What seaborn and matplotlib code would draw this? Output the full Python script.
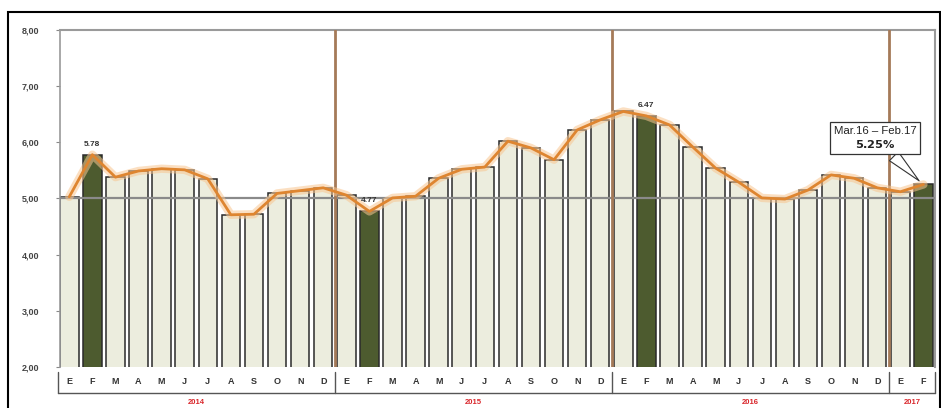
import numpy as np
import pandas as pd
import matplotlib
matplotlib.use("Agg")
import matplotlib.pyplot as plt
from matplotlib.patches import Rectangle
from matplotlib.lines import Line2D
import matplotlib.transforms as mtransforms
import seaborn as sns

# Monthly 12-month rate, Jan 2014 - Feb 2017
months = ["E", "F", "M", "A", "M", "J", "J", "A", "S", "O", "N", "D"]
years = ["2014", "2015", "2016", "2017"]
rate_2014 = [5.03, 5.78, 5.38, 5.49, 5.53, 5.51, 5.35, 4.71, 4.72, 5.09, 5.14, 5.19]
rate_2015 = [5.06, 4.77, 5.01, 5.04, 5.36, 5.52, 5.56, 6.02, 5.90, 5.69, 6.22, 6.40]
rate_2016 = [6.55, 6.47, 6.31, 5.92, 5.54, 5.29, 5.01, 4.99, 5.15, 5.42, 5.36, 5.19]
rate_2017 = [5.12, 5.25]
point_labels = {"2014-F": "5.78", "2015-F": "4.77", "2016-F": "6.47"}
callout_text = "Mar.16 \u2013 Feb.17"
callout_value = "5.25%"
yticks = [2, 3, 4, 5, 6, 7, 8]

series = [rate_2014, rate_2015, rate_2016, rate_2017]
rows = []
for yr, vals in zip(years, series):
    for i, v in enumerate(vals):
        rows.append({"period": f"{yr}-{i+1:02d}", "month": months[i], "year": yr,
                     "value": v, "kind": "feb" if months[i] == "F" else "other",
                     "key": f"{yr}-{months[i]}"})
df = pd.DataFrame(rows)
n = len(df)

sns.set_theme(style="white")
plt.rcParams["font.family"] = ["Liberation Sans", "DejaVu Sans"]

fig = plt.figure(figsize=(9.41, 4.08), dpi=100)
ax = fig.add_axes([0.0638, 0.1005, 0.9298, 0.826])

sns.barplot(data=df, x="period", y="value", hue="kind",
            palette={"feb": "#4F6228", "other": "#EEEFDC"},
            dodge=False, width=0.8, edgecolor="#2a2a2a", linewidth=1.1,
            legend=False, ax=ax, zorder=2)

# reference level and year separators
ax.axhline(5, color="#8a8a8a", lw=1.6, zorder=3)
pos = np.arange(n)
boundaries = [i - 0.5 for i in range(1, n) if df["year"].iloc[i] != df["year"].iloc[i - 1]]
for b in boundaries:
    ax.axvline(b, color="#A57A58", lw=2.0, zorder=3)

# rate line with soft glow
ax.plot(pos, df["value"], color="#F8C690", lw=6, alpha=0.55, zorder=4, solid_capstyle="round")
ax.plot(pos, df["value"], color="#DE8530", lw=2.0, zorder=5)

ax.set_ylim(2, 8)
ax.set_xlim(-0.4, n - 0.5)
ax.set_yticks(yticks)
ax.set_yticklabels([f"{t:.2f}".replace(".", ",") for t in yticks],
                   fontsize=6.5, fontweight="bold", color="#444444")
ax.set_xticks(pos)
ax.set_xticklabels(df["month"], fontsize=6.5, fontweight="bold", color="#333333")
ax.tick_params(axis="x", length=0, pad=7)
ax.tick_params(axis="y", length=3, width=0.8, color="#888888", pad=12, left=True)
ax.set_xlabel("")
ax.set_ylabel("")
for s in ["top", "right"]:
    ax.spines[s].set_color("#9a9a9a")
    ax.spines[s].set_linewidth(1.5)
ax.spines["left"].set_color("#9a9a9a")
ax.spines["left"].set_linewidth(1.2)
ax.spines["bottom"].set_visible(False)

# value labels on February bars
for key, txt in point_labels.items():
    i = df.index[df["key"] == key][0]
    ax.annotate(txt, (pos[i], df["value"].iloc[i]), xytext=(0, 5), textcoords="offset points",
                ha="center", va="bottom", fontsize=6, fontweight="bold", color="#333333", zorder=6)

# callout for the latest month
last = n - 1
ax.annotate(callout_text + "\n$\\bf{" + callout_value.replace("%", "\\%") + "}$",
            xy=(pos[last] - 0.1, df["value"].iloc[last] + 0.03), xytext=(34.9, 6.08),
            ha="center", va="center", fontsize=8.2, color="#222222", zorder=7,
            bbox=dict(boxstyle="square,pad=0.35", fc="white", ec="#333333", lw=0.9),
            arrowprops=dict(arrowstyle="wedge,tail_width=1.1,shrink_factor=0.5",
                            fc="white", ec="#333333", lw=0.8))

# multi-level category axis: brackets and year labels
trans = mtransforms.blended_transform_factory(ax.transData, ax.transAxes)
edges = [-0.5] + boundaries + [n - 0.5]
ax.add_line(Line2D([edges[0], edges[-1]], [-0.078, -0.078], transform=trans,
                   color="#555555", lw=1.0, clip_on=False))
for e in edges:
    ax.add_line(Line2D([e, e], [-0.015, -0.078], transform=trans,
                       color="#555555", lw=1.0, clip_on=False))
for yr, a, b in zip(years, edges[:-1], edges[1:]):
    ax.text((a + b) / 2, -0.095, yr, transform=trans, ha="center", va="top",
            fontsize=5.5, fontweight="bold", color="#D9262B")

# outer frame
fig.patches.append(Rectangle((0.0085, -0.01), 0.9905, 0.9806, transform=fig.transFigure,
                             fill=False, ec="black", lw=1.5))

fig.savefig("out.png", dpi=100)
